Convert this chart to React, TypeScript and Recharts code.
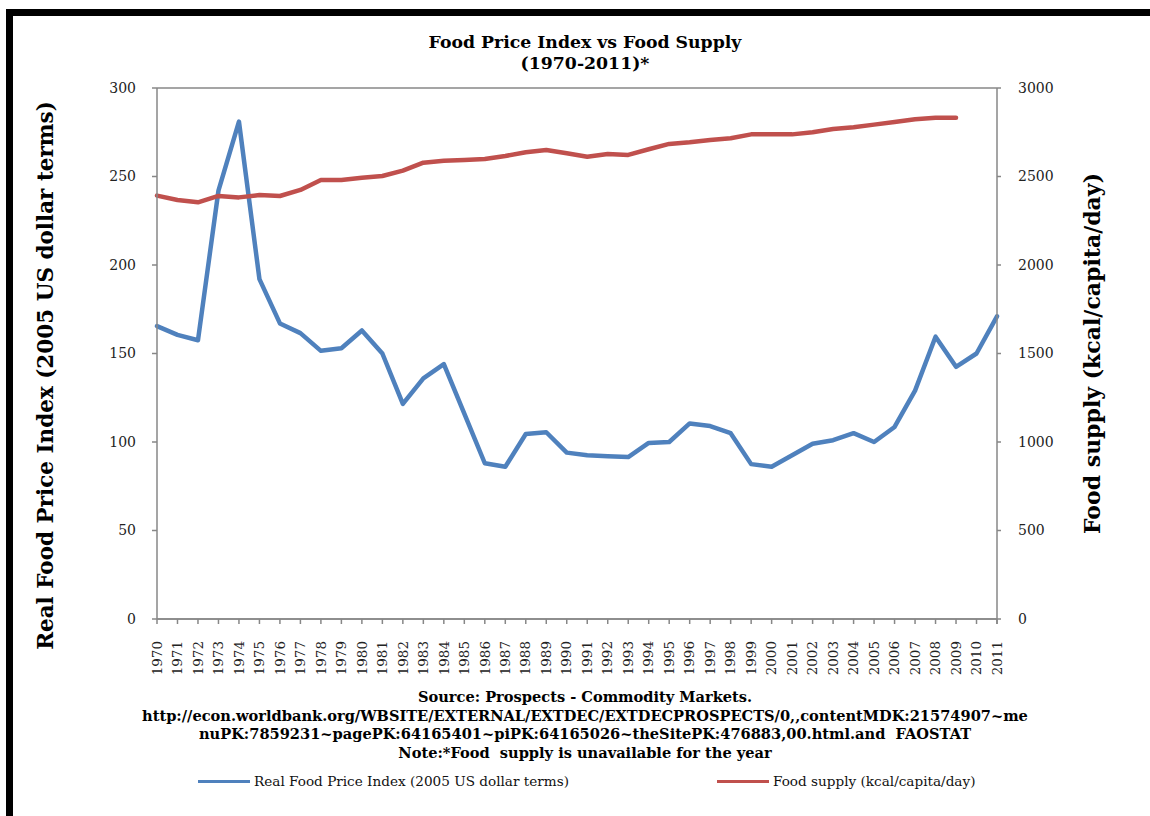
import React from 'react';
import { LineChart, Line, XAxis, YAxis, CartesianGrid } from 'recharts';

const years = [
  '1970', '1971', '1972', '1973', '1974', '1975', '1976', '1977', '1978', '1979',
  '1980', '1981', '1982', '1983', '1984', '1985', '1986', '1987', '1988', '1989',
  '1990', '1991', '1992', '1993', '1994', '1995', '1996', '1997', '1998', '1999',
  '2000', '2001', '2002', '2003', '2004', '2005', '2006', '2007', '2008', '2009',
  '2010', '2011',
];

// Real food price index (2005 US dollar terms), left axis
const priceIndex = [
  165.5, 160.5, 157.5, 242, 281, 192, 167, 161.5, 151.5, 153,
  163, 150, 121.5, 136, 144, 116, 88, 86, 104.5, 105.5,
  94, 92.5, 92, 91.5, 99.5, 100, 110.5, 109, 105, 87.5,
  86, 92.5, 99, 101, 105, 100, 108.5, 129, 159.5, 142.5,
  150, 171,
];

// Food supply (kcal/capita/day), right axis - no data for 2010/2011
const foodSupply = [
  2392, 2367, 2354, 2390, 2382, 2395, 2390, 2424, 2480, 2480,
  2493, 2503, 2533, 2578, 2589, 2593, 2599, 2616, 2637, 2650,
  2631, 2612, 2627, 2622, 2654, 2684, 2693, 2706, 2716, 2738,
  2738, 2738, 2750, 2768, 2778, 2793, 2808, 2823, 2832, 2832,
  null, null,
];

const leftTicks = [0, 50, 100, 150, 200, 250, 300];
const rightTicks = [0, 500, 1000, 1500, 2000, 2500, 3000];

const sourceLines = [
  'Source: Prospects - Commodity Markets.',
  'http://econ.worldbank.org/WBSITE/EXTERNAL/EXTDEC/EXTDECPROSPECTS/0,,contentMDK:21574907~me',
  'nuPK:7859231~pagePK:64165401~piPK:64165026~theSitePK:476883,00.html.and  FAOSTAT',
  'Note:*Food  supply is unavailable for the year',
];

const BLUE = '#4F81BD';
const RED = '#C0504D';
const GREY = '#878787';
const FONT = '"DejaVu Serif", "Liberation Serif", serif';

const data = years.map((year, i) => ({
  year,
  price: priceIndex[i],
  supply: foodSupply[i],
}));

// Year labels rotated, tick marks between categories (Excel style)
const YearTick = (props: any) => {
  const { x, y, payload, index, visibleTicksCount } = props;
  const half = payload.offset ?? 10;
  const isLast = index === visibleTicksCount - 1;
  return (
    <g>
      <line x1={x - half} x2={x - half} y1={y} y2={y + 5} stroke={GREY} strokeWidth={1.5} />
      {isLast && (
        <line x1={x + half} x2={x + half} y1={y} y2={y + 5} stroke={GREY} strokeWidth={1.5} />
      )}
      <text
        x={x}
        y={y + 22}
        dy="0.35em"
        textAnchor="end"
        transform={`rotate(-90, ${x}, ${y + 22})`}
        fontFamily={FONT}
        fontSize={13.5}
        fill="#222"
      >
        {payload.value}
      </text>
    </g>
  );
};

const LeftTitle = (props: any) => {
  const { viewBox } = props;
  const cx = 45;
  const cy = viewBox.y + viewBox.height / 2 + 22;
  return (
    <text
      x={cx}
      y={cy}
      textAnchor="middle"
      dominantBaseline="central"
      transform={`rotate(-90, ${cx}, ${cy})`}
      fontFamily={FONT}
      fontWeight="bold"
      fontSize={21.5}
      fill="#000"
    >
      Real Food Price Index (2005 US dollar terms)
    </text>
  );
};

const RightTitle = (props: any) => {
  const { viewBox } = props;
  const cx = 1092;
  const cy = viewBox.y + viewBox.height / 2;
  return (
    <text
      x={cx}
      y={cy}
      textAnchor="middle"
      dominantBaseline="central"
      transform={`rotate(-90, ${cx}, ${cy})`}
      fontFamily={FONT}
      fontWeight="bold"
      fontSize={22}
      fill="#000"
    >
      Food supply (kcal/capita/day)
    </text>
  );
};

const LegendItem = ({ color, label, left }: { color: string; label: string; left: number }) => (
  <div style={{ position: 'absolute', left, top: 773, display: 'flex', alignItems: 'center' }}>
    <div style={{ width: 52, height: 3, background: color, marginRight: 4 }} />
    <span style={{ fontFamily: FONT, fontSize: 13.6, color: '#111', whiteSpace: 'nowrap' }}>{label}</span>
  </div>
);

const App: React.FC = () => {
  return (
    <div style={{ position: 'absolute', left: 0, top: 0, width: 1150, height: 816, background: '#fff', overflow: 'hidden' }}>
      {/* Black frame round the picture */}
      <div
        style={{
          position: 'absolute',
          left: 6,
          top: 9,
          width: 1200,
          height: 900,
          borderLeft: '7px solid #000',
          borderTop: '7px solid #000',
        }}
      />

      {/* Title */}
      <div
        style={{
          position: 'absolute',
          left: 0,
          width: 1170,
          top: 32,
          textAlign: 'center',
          fontFamily: FONT,
          fontWeight: 'bold',
          fontSize: 17.3,
          lineHeight: '21px',
          color: '#000',
        }}
      >
        <div>Food Price Index vs Food Supply</div>
        <div>(1970-2011)*</div>
      </div>

      <div style={{ position: 'absolute', left: 0, top: 0 }}>
        <LineChart width={1150} height={816} data={data} margin={{ top: 88, right: 0, bottom: 137, left: 0 }}>
          <CartesianGrid vertical={false} stroke={GREY} strokeWidth={1.5} />
          <XAxis
            dataKey="year"
            height={60}
            interval={0}
            tickSize={0}
            tickMargin={0}
            tickLine={false}
            axisLine={{ stroke: GREY, strokeWidth: 1.5 }}
            tick={<YearTick />}
          />
          <YAxis
            yAxisId="left"
            width={157}
            domain={[0, 300]}
            ticks={leftTicks}
            interval={0}
            tickSize={5}
            tickMargin={16}
            axisLine={{ stroke: GREY, strokeWidth: 1.5 }}
            tickLine={{ stroke: GREY, strokeWidth: 1.5 }}
            tick={{ fill: '#222', fontSize: 14, fontFamily: FONT }}
            label={<LeftTitle />}
          />
          <YAxis
            yAxisId="right"
            orientation="right"
            width={153}
            domain={[0, 3000]}
            ticks={rightTicks}
            interval={0}
            tickSize={4}
            tickMargin={17}
            axisLine={{ stroke: GREY, strokeWidth: 1.5 }}
            tickLine={{ stroke: GREY, strokeWidth: 1.5 }}
            tick={{ fill: '#222', fontSize: 14, fontFamily: FONT }}
            label={<RightTitle />}
          />
          <Line
            yAxisId="left"
            type="linear"
            dataKey="price"
            stroke={BLUE}
            strokeWidth={4.5}
            strokeLinejoin="round"
            strokeLinecap="round"
            dot={false}
            isAnimationActive={false}
          />
          <Line
            yAxisId="right"
            type="linear"
            dataKey="supply"
            stroke={RED}
            strokeWidth={4.5}
            strokeLinejoin="round"
            strokeLinecap="round"
            dot={false}
            connectNulls={false}
            isAnimationActive={false}
          />
        </LineChart>
      </div>

      {/* Source note */}
      <div
        style={{
          position: 'absolute',
          left: 0,
          width: 1170,
          top: 688,
          textAlign: 'center',
          fontFamily: FONT,
          fontWeight: 'bold',
          fontSize: 14.6,
          lineHeight: '18.5px',
          color: '#000',
          whiteSpace: 'pre',
        }}
      >
        {sourceLines.map((line) => (
          <div key={line}>{line}</div>
        ))}
      </div>

      <LegendItem color={BLUE} label="Real Food Price Index (2005 US dollar terms)" left={198} />
      <LegendItem color={RED} label="Food supply (kcal/capita/day)" left={717} />
    </div>
  );
};

export default App;
